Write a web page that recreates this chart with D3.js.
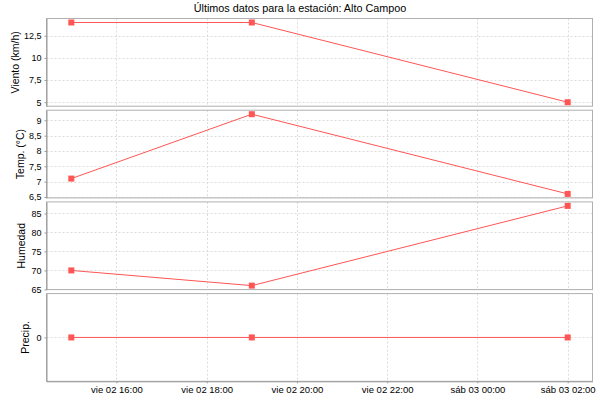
<!DOCTYPE html>
<html><head><meta charset="utf-8">
<script src="https://cdn.jsdelivr.net/npm/d3@7"></script>
<style>
body{margin:0;background:#fff;}
text{font-family:"Liberation Sans",Arial,sans-serif;fill:#000;}
</style></head>
<body>
<svg id="c" width="600" height="400"></svg>
<script>
// ---- data ----
const times = ["2018-02-02T15:00","2018-02-02T19:00","2018-02-03T02:00"];
const viento = [14, 14, 5];
const temp = [7.1, 9.2, 6.6];
const humedad = [70, 66, 87];
const precip = [0, 0, 0];
const vientoTicks = [5, 7.5, 10, 12.5];
const tempTicks = [6.5, 7, 7.5, 8, 8.5, 9];
const humedadTicks = [65, 70, 75, 80, 85];
const precipTicks = [0];
const labels = ["Viento (km/h)", "Temp. (°C)", "Humedad", "Precip."];
const title = "Últimos datos para la estación: Alto Campoo";

// layout (not data)
const labelCenterX = [15, 20.5, 21.5, 25];

const loc = d3.timeFormatLocale({
  dateTime:"%c", date:"%d/%m/%Y", time:"%H:%M:%S", periods:["AM","PM"],
  days:["domingo","lunes","martes","miércoles","jueves","viernes","sábado"],
  shortDays:["dom","lun","mar","mié","jue","vie","sáb"],
  months:["enero","febrero","marzo","abril","mayo","junio","julio","agosto","septiembre","octubre","noviembre","diciembre"],
  shortMonths:["ene","feb","mar","abr","may","jun","jul","ago","sep","oct","nov","dic"]
});
const fmtTime = loc.format("%a %d %H:%M");
const numLoc = d3.formatLocale({decimal:",", thousands:".", grouping:[3], currency:["","€"]});
const fmtNum = v => numLoc.format("~g")(v);

const svg = d3.select("#c");
const parse = d3.timeParse("%Y-%m-%dT%H:%M");
const dates = times.map(parse);

const left = 46.5, right = 592.5, top0 = 18.5, ph = 87.7, gap = 4;
const red = "#FF5555", grid = "#dcdcdc", axisCol = "#999";

const t0 = d3.min(dates), t1 = d3.max(dates);
const span = t1 - t0;
const x = d3.scaleTime()
  .domain([new Date(+t0 - span*0.05), new Date(+t1 + span*0.05)])
  .range([left, right]);
const xTicks = x.ticks(d3.timeHour.every(2));

svg.append("text").attr("x", 300).attr("y", 12).attr("text-anchor","middle")
  .style("font-size","10.8px").text(title);

const series = [
  {vals: viento, ticks: vientoTicks, label: labels[0]},
  {vals: temp, ticks: tempTicks, label: labels[1]},
  {vals: humedad, ticks: humedadTicks, label: labels[2]},
  {vals: precip, ticks: precipTicks, label: labels[3]}
];

series.forEach((s, i) => {
  const top = top0 + i*(ph+gap), bot = top + ph;
  let lo = d3.min(s.vals), hi = d3.max(s.vals);
  let m = (hi - lo) * 0.05;
  if (hi === lo) { lo -= 1; hi += 1; m = 0; }
  const y = d3.scaleLinear().domain([lo - m, hi + m]).range([bot, top]);
  const g = svg.append("g");
  g.append("rect").attr("x", left).attr("y", top).attr("width", right-left).attr("height", ph)
    .attr("fill", "#fff");
  g.selectAll(".vg").data(xTicks).enter().append("line")
    .attr("x1", d => Math.round(x(d))+0.5).attr("x2", d => Math.round(x(d))+0.5)
    .attr("y1", top).attr("y2", bot)
    .attr("stroke", grid).attr("stroke-width",1).attr("stroke-dasharray","2,2");
  g.selectAll(".hg").data(s.ticks).enter().append("line")
    .attr("x1", left).attr("x2", right)
    .attr("y1", d => Math.round(y(d))+0.5).attr("y2", d => Math.round(y(d))+0.5)
    .attr("stroke", grid).attr("stroke-width",1).attr("stroke-dasharray","2,2");
  g.append("rect").attr("x", left).attr("y", top).attr("width", right-left).attr("height", ph)
    .attr("fill", "none").attr("stroke", "#b0b0b0");
  const ax = g.append("g").attr("transform", `translate(${left},0)`)
    .call(d3.axisLeft(y).tickValues(s.ticks).tickFormat(fmtNum).tickSize(2).tickPadding(3).tickSizeOuter(0));
  ax.select(".domain").attr("stroke", axisCol);
  ax.selectAll(".tick line").attr("stroke", axisCol);
  ax.selectAll(".tick text").style("font-size","9px").attr("fill","#000").style("font-family","Liberation Sans, Arial, sans-serif");
  svg.append("text")
    .attr("transform", `translate(${labelCenterX[i]},${(top+bot)/2}) rotate(-90)`)
    .attr("text-anchor","middle").attr("dy","0.35em").style("font-size","10.5px").text(s.label);
  const pts = s.vals.map((v, k) => [dates[k], v]);
  g.append("path").datum(pts)
    .attr("d", d3.line().x(d => x(d[0])).y(d => y(d[1])))
    .attr("fill","none").attr("stroke", red).attr("stroke-width",1);
  g.selectAll(".pt").data(pts).enter().append("rect")
    .attr("x", d => x(d[0]) - 3).attr("y", d => y(d[1]) - 3)
    .attr("width", 6).attr("height", 6).attr("fill", red);
  if (i === series.length - 1) {
    const xa = svg.append("g").attr("transform", `translate(0,${bot})`)
      .call(d3.axisBottom(x).tickValues(xTicks).tickFormat(fmtTime).tickSize(2).tickPadding(3).tickSizeOuter(0));
    xa.select(".domain").attr("stroke", axisCol);
    xa.selectAll(".tick line").attr("stroke", axisCol);
    xa.selectAll(".tick text").style("font-size","9.5px").attr("fill","#000").style("font-family","Liberation Sans, Arial, sans-serif");
  }
});
</script>
</body></html>
